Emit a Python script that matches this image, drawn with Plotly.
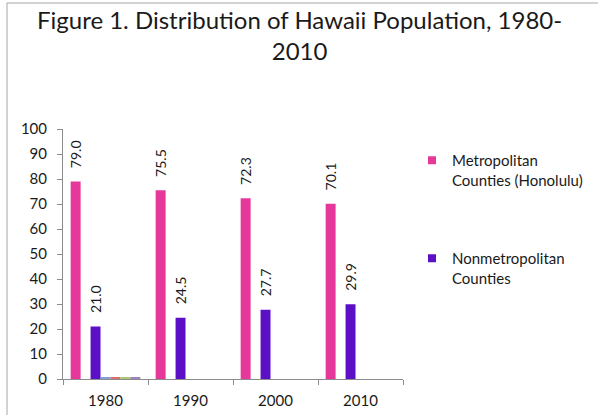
import plotly.graph_objects as go

years = ["1980", "1990", "2000", "2010"]
metro = [79.0, 75.5, 72.3, 70.1]
blank = [None, None, None, None]
nonmetro = [21.0, 24.5, 27.7, 29.9]
small_a = [0.5, None, None, None]
small_b = [0.5, None, None, None]
small_c = [0.5, None, None, None]
small_d = [0.5, None, None, None]

metro_name = "Metropolitan<br>Counties (Honolulu)"
nonmetro_name = "Nonmetropolitan<br>Counties"
title_text = "Figure 1. Distribution of Hawaii Population, 1980-<br>2010"
y_ticks = list(range(0, 101, 10))

FONT = "Lato"
TXT = "#1a1a1a"
BARGAP = 0.18
PINK = "#E5389A"
PURPLE = "#5B10C6"

series = [
    ("metro", metro, PINK),
    ("blank", blank, "#ffffff"),
    ("nonmetro", nonmetro, PURPLE),
    ("s4", small_a, "#7EA1D6"),
    ("s5", small_b, "#D8706C"),
    ("s6", small_c, "#A7C96A"),
    ("s7", small_d, "#9B85BF"),
]
n = len(series)

fig = go.Figure()
for name, vals, col in series:
    fig.add_trace(go.Bar(x=years, y=vals, name=name, marker=dict(color=col, line=dict(width=0)),
                         showlegend=False, hoverinfo="skip"))

# legend entries (small square keys like the reference)
for name, col, leg in [(metro_name, PINK, "legend"), (nonmetro_name, PURPLE, "legend2")]:
    fig.add_trace(go.Scatter(x=[None], y=[None], mode="markers", name=name,
                             marker=dict(symbol="square", size=8, color=col),
                             legend=leg, showlegend=True, hoverinfo="skip"))

# data labels above Metro (slot 0) and Nonmetro (slot 2)
slot_w = (1 - BARGAP) / n
annotations = []
for slot, vals in [(0, metro), (2, nonmetro)]:
    off = -0.5 + BARGAP / 2 + (slot + 0.5) * slot_w
    for i, v in enumerate(vals):
        annotations.append(dict(
            x=i + off, y=v, xref="x", yref="y", text=f"{v:.1f}", textangle=-90,
            showarrow=False, yanchor="bottom", xanchor="center", yshift=11,
            font=dict(family=FONT, size=14, color=TXT)))

L, R, T, B = 63, 195, 129, 36
W, H = 598, 415
pw, ph = W - L - R, H - T - B

# two-line centred title
annotations.append(dict(
    x=(299 - L) / pw, y=(H - B - 35) / ph, xref="paper", yref="paper",
    text=title_text, showarrow=False, xanchor="center", yanchor="middle", align="center",
    font=dict(family=FONT, size=24, color=TXT)))

bx = (7 - L) / pw
by = (H - B - 3) / ph

leg_x = (412 - L) / pw

fig.update_layout(
    width=W, height=H,
    margin=dict(l=L, r=R, t=T, b=B, pad=0, autoexpand=False),
    paper_bgcolor="white", plot_bgcolor="white",
    barmode="group", bargap=BARGAP, bargroupgap=0,
    font=dict(family=FONT, size=14, color=TXT),
    xaxis=dict(type="category", showline=True, linecolor="#8c8c8c", linewidth=1,
               ticks="outside", tickson="boundaries", ticklen=5, tickcolor="#8c8c8c",
               showgrid=False, zeroline=False, ticklabelstandoff=8, automargin=False,
               tickfont=dict(family=FONT, size=15, color=TXT)),
    yaxis=dict(range=[0, 100], tickvals=y_ticks, showline=True, linecolor="#8c8c8c",
               linewidth=1, ticks="outside", ticklen=5, tickcolor="#8c8c8c",
               showgrid=False, zeroline=False, ticklabelstandoff=7, automargin=False,
               tickfont=dict(family=FONT, size=15, color=TXT)),
    legend=dict(x=leg_x, y=(H - B - 144) / ph, xanchor="left", yanchor="top",
                font=dict(family=FONT, size=15, color=TXT), valign="top",
                bgcolor="rgba(0,0,0,0)", itemwidth=30),
    legend2=dict(x=leg_x, y=(H - B - 242) / ph, xanchor="left", yanchor="top",
                 font=dict(family=FONT, size=15, color=TXT), valign="top",
                 bgcolor="rgba(0,0,0,0)", itemwidth=30),
    annotations=annotations,
    shapes=[
        dict(type="line", xref="paper", yref="paper", x0=bx, x1=bx, y0=-1, y1=by,
             line=dict(color="#a6a6a6", width=1)),
        dict(type="line", xref="paper", yref="paper", x0=bx, x1=2, y0=by, y1=by,
             line=dict(color="#a6a6a6", width=1)),
    ],
)

fig.write_html("out.html")
